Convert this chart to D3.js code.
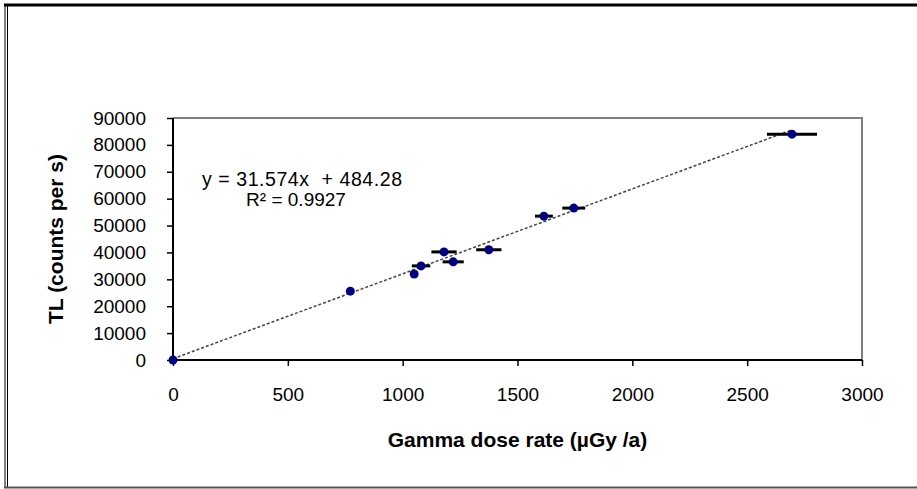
<!DOCTYPE html>
<html><head><meta charset="utf-8">
<script src="https://cdn.jsdelivr.net/npm/d3@7"></script>
<style>body{margin:0;background:#fff;}svg{display:block;font-family:"Liberation Sans",Arial,sans-serif;}</style>
</head><body><svg id="c" width="917" height="489"></svg>
<script>
const doseRate = [0, 772, 1050, 1080, 1180, 1220, 1375, 1615, 1745, 2695];
const tlCounts = [0, 25600, 32000, 35000, 40200, 36500, 41000, 53500, 56500, 84000];
const doseErr  = [0, 0, 0, 40, 55, 46, 55, 39, 50, 109];
const xTicks = [0, 500, 1000, 1500, 2000, 2500, 3000];
const yTicks = [0, 10000, 20000, 30000, 40000, 50000, 60000, 70000, 80000, 90000];
const slope = 31.574, intercept = 484.28;
const eqText = "y = 31.574x  + 484.28";
const r2Text = "R\u00B2 = 0.9927";

const svg = d3.select("#c");
const L = 173, R = 862, T = 118, B = 360;
const x = d3.scaleLinear().domain([0, 3000]).range([L, R]);
const y = d3.scaleLinear().domain([0, 90000]).range([B, T]);

// outer frame
svg.append("line").attr("x1",4).attr("x2",917).attr("y1",5).attr("y2",5).attr("stroke","#000").attr("stroke-width",3);
svg.append("line").attr("x1",5).attr("x2",5).attr("y1",4).attr("y2",488).attr("stroke","#000").attr("stroke-width",1);
svg.append("line").attr("x1",7.5).attr("x2",7.5).attr("y1",4).attr("y2",488).attr("stroke","#000").attr("stroke-width",1);
svg.append("line").attr("x1",4).attr("x2",917).attr("y1",487.5).attr("y2",487.5).attr("stroke","#555").attr("stroke-width",2);

// plot area border (top, right)
svg.append("path").attr("d",`M${L},${T}H${R}V${B}`).attr("fill","none").attr("stroke","#808080").attr("stroke-width",2);

// axes
const xAxis = d3.axisBottom(x).tickValues(xTicks).tickSize(6).tickPadding(22).tickFormat(d3.format("d"));
const yAxis = d3.axisLeft(y).tickValues(yTicks).tickSize(6).tickPadding(21).tickFormat(d3.format("d"));
const gx = svg.append("g").attr("transform",`translate(0,${B})`).call(xAxis);
const gy = svg.append("g").attr("transform",`translate(${L},0)`).call(yAxis);
[gx, gy].forEach(g=>{
  g.attr("font-size",19).attr("font-family","Liberation Sans, Arial, sans-serif");
  g.select(".domain").attr("stroke","#000").attr("stroke-width",2);
  g.selectAll(".tick line").attr("stroke","#000").attr("stroke-width",1.5);
  g.selectAll(".tick text").attr("fill","#000");
});
gy.select(".domain").attr("d",`M0,${T}V${B}`);
gx.select(".domain").attr("d",`M${L},0H${R}`);

// trendline
svg.append("line")
  .attr("x1",x(0)).attr("y1",y(intercept))
  .attr("x2",x(d3.max(doseRate))).attr("y2",y(slope*d3.max(doseRate)+intercept))
  .attr("stroke","#444").attr("stroke-width",1.5).attr("stroke-dasharray","3,2");

// error bars
const pts = doseRate.map((d,i)=>({x:d,y:tlCounts[i],e:doseErr[i]}));
svg.append("g").selectAll("line").data(pts.filter(p=>p.e>0)).join("line")
  .attr("x1",p=>x(p.x-p.e)).attr("x2",p=>x(p.x+p.e))
  .attr("y1",p=>y(p.y)).attr("y2",p=>y(p.y))
  .attr("stroke","#000").attr("stroke-width",3);

// points
svg.append("g").selectAll("circle").data(pts).join("circle")
  .attr("cx",p=>x(p.x)).attr("cy",p=>y(p.y)).attr("r",4.5)
  .attr("fill","#000080");

// equation
svg.append("text").attr("x",302).attr("y",186).attr("text-anchor","middle").attr("font-size",19.5)
  .attr("textLength",200).attr("lengthAdjust","spacing").attr("xml:space","preserve").style("white-space","pre").text(eqText);
svg.append("text").attr("x",296).attr("y",206).attr("text-anchor","middle").attr("font-size",19).text(r2Text);

// axis titles
svg.append("text").attr("x",(L+R)/2).attr("y",447).attr("text-anchor","middle").attr("font-size",21).attr("font-weight","bold").text("Gamma dose rate (\u00B5Gy /a)");
svg.append("text").attr("transform",`translate(63,${(T+B)/2}) rotate(-90)`).attr("text-anchor","middle").attr("font-size",21).attr("font-weight","bold").text("TL  (counts per s)");
</script></body></html>
